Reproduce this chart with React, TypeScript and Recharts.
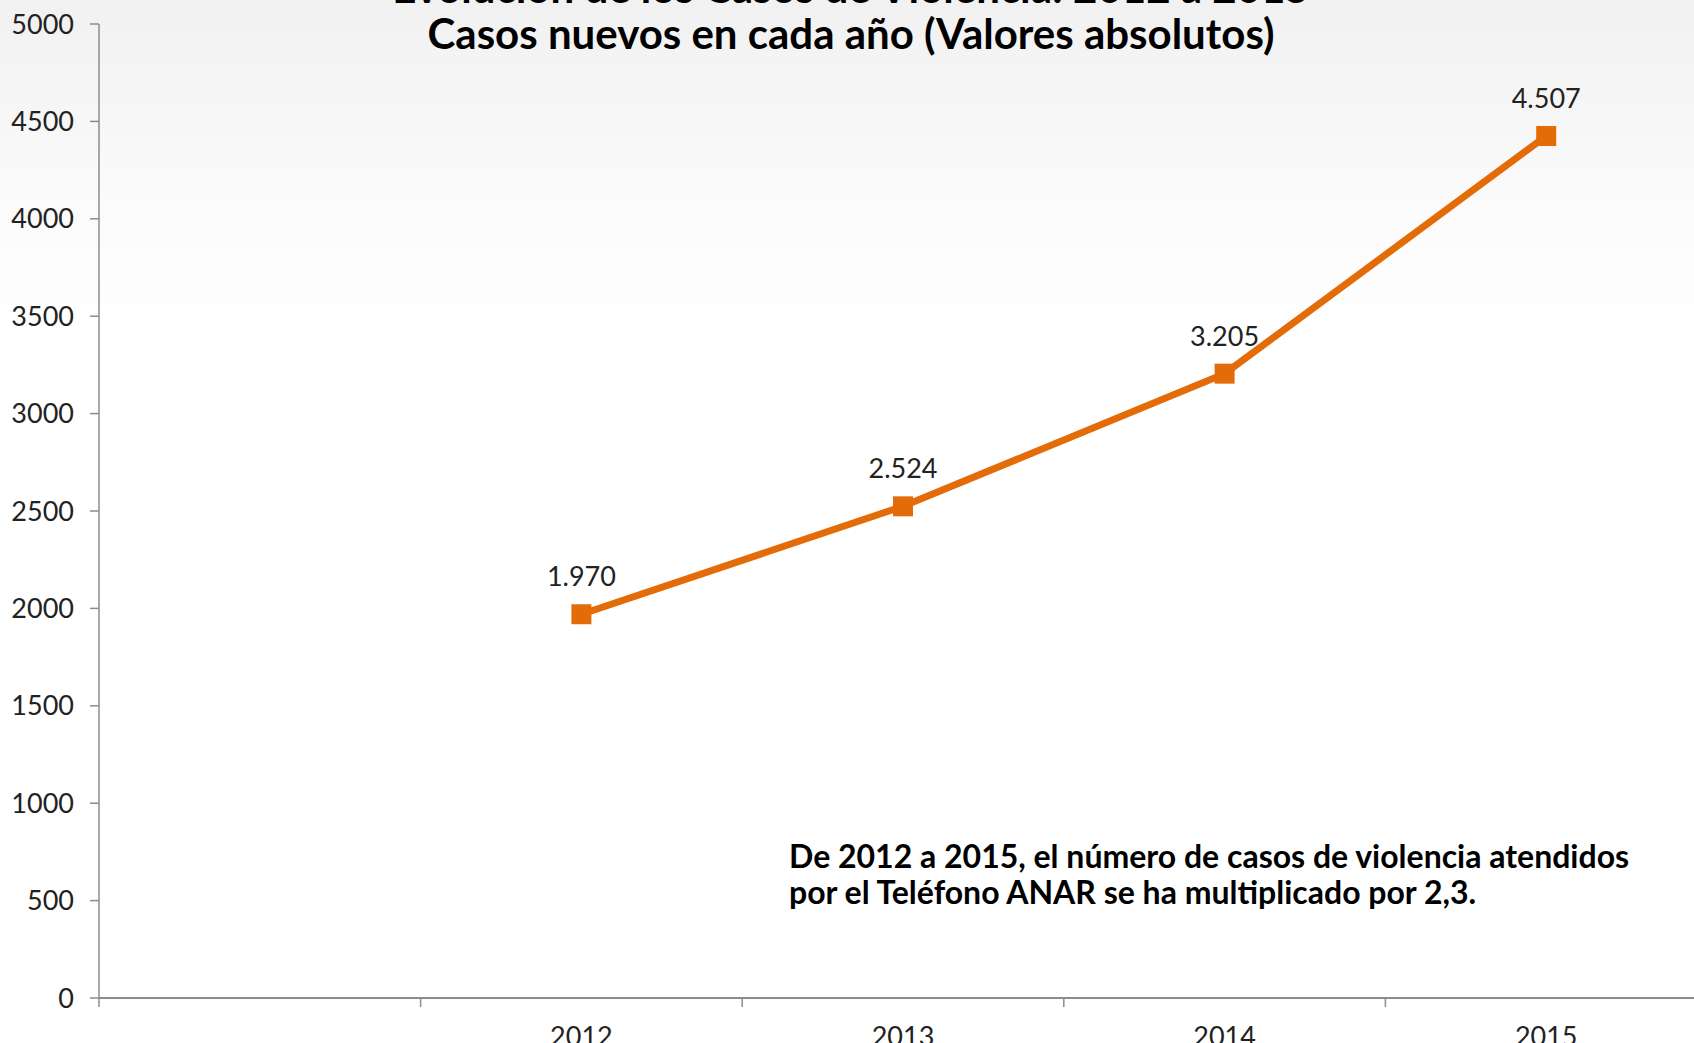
import React from "react";
import { LineChart, Line, XAxis, YAxis, LabelList } from "recharts";

const years = ["", "2012", "2013", "2014", "2015"];
const casos = [null, 1970, 2524, 3205, 4425];
const etiquetas = ["", "1.970", "2.524", "3.205", "4.507"];
const yTicks = [0, 500, 1000, 1500, 2000, 2500, 3000, 3500, 4000, 4500, 5000];

const titulo1 = "Evolución de los Casos de Violencia: 2012 a 2015";
const titulo2 = "Casos nuevos en cada año (Valores absolutos)";
const nota1 = "De 2012 a 2015, el número de casos de violencia atendidos";
const nota2 = "por el Teléfono ANAR se ha multiplicado por 2,3.";

const data = years.map((year, i) => ({ year, casos: casos[i], etiqueta: etiquetas[i] }));

const FONT = "Lato, 'Noto Sans', sans-serif";
const AXIS = "#8c8c8c";
const ORANGE = "#E36C09";

function YearTick(props: any) {
  const { x, y, payload } = props;
  const off = payload?.offset ?? 0;
  return (
    <g>
      <line x1={x - off} y1={y - 8} x2={x - off} y2={y + 1} stroke={AXIS} strokeWidth={1.5} />
      <text x={x} y={y + 40} textAnchor="middle" fontSize={27} fontFamily={FONT} fill="#222">
        {payload.value}
      </text>
    </g>
  );
}

function Square(props: any) {
  const { cx, cy, payload } = props;
  if (payload.casos == null) return null;
  return <rect x={cx - 10} y={cy - 10} width={20} height={20} fill={ORANGE} />;
}

export default function App() {
  return (
    <div
      style={{
        position: "absolute",
        top: 0,
        left: 0,
        width: 1694,
        height: 1043,
        overflow: "hidden",
        background: "linear-gradient(#f1f1f1 0%, #fbfbfb 20%, #ffffff 32%)",
        fontFamily: FONT,
      }}
    >
      <LineChart
        width={1720}
        height={1043}
        data={data}
        margin={{ top: 24, right: 13, left: 0, bottom: 0 }}
      >
        <XAxis
          dataKey="year"
          scale="band"
          height={45}
          tickLine={false}
          axisLine={{ stroke: AXIS, strokeWidth: 2 }}
          tick={<YearTick />}
          interval={0}
        />
        <YAxis
          width={99}
          domain={[0, 5000]}
          ticks={yTicks}
          interval={0}
          tickSize={9}
          tickMargin={16}
          axisLine={{ stroke: AXIS, strokeWidth: 1.5 }}
          tickLine={{ stroke: AXIS, strokeWidth: 1.5 }}
          tick={{ fontSize: 27, fontFamily: FONT, fill: "#222" }}
        />
        <Line
          dataKey="casos"
          stroke={ORANGE}
          strokeWidth={7}
          dot={<Square />}
          activeDot={false}
          isAnimationActive={false}
        >
          <LabelList
            dataKey="etiqueta"
            position="top"
            offset={28}
            style={{ fontSize: 27, fontFamily: FONT, fill: "#222" }}
          />
        </Line>
      </LineChart>
      <div
        style={{
          position: "absolute",
          left: 0,
          width: 1702,
          top: -36,
          textAlign: "center",
          fontWeight: 700,
          fontSize: 42,
          lineHeight: "46px",
          color: "#000",
        }}
      >
        <div>{titulo1}</div>
        <div>{titulo2}</div>
      </div>
      <div
        style={{
          position: "absolute",
          left: 789,
          top: 838,
          fontWeight: 700,
          fontSize: 32,
          lineHeight: "36px",
          color: "#000",
        }}
      >
        <div>{nota1}</div>
        <div>{nota2}</div>
      </div>
    </div>
  );
}
